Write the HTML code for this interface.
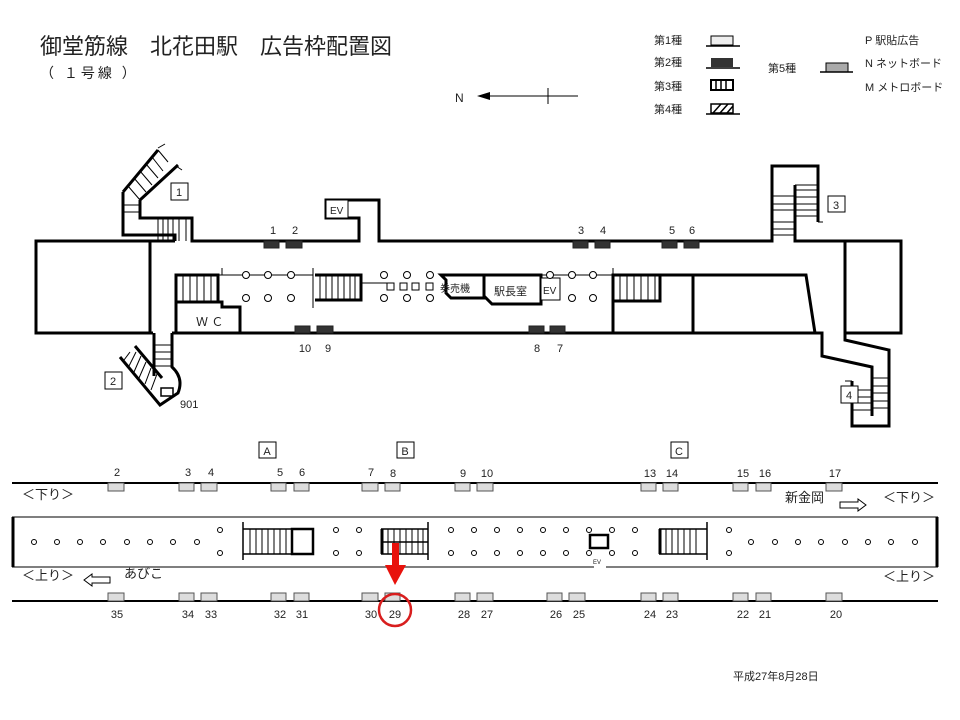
<!DOCTYPE html>
<html><head><meta charset="utf-8"><style>
body{margin:0;background:#fff;}
svg{display:block;font-family:"Liberation Sans","Noto Sans CJK JP",sans-serif;}
.w{fill:none;stroke:#000;stroke-width:3;}
.t{fill:none;stroke:#000;stroke-width:1;}
.m{fill:none;stroke:#000;stroke-width:1.5;}
.c{fill:#fff;stroke:#000;stroke-width:1;}
.d{fill:#333;stroke:#222;stroke-width:1;}
.l{fill:#ddd;stroke:#555;stroke-width:1;}
text{fill:#222;}
.n{font-size:11px;text-anchor:middle;}
</style></head><body>
<svg width="960" height="720" viewBox="0 0 960 720">
<!-- title -->
<text x="40" y="54" font-size="22">御堂筋線　北花田駅　広告枠配置図</text>
<text x="40" y="78" font-size="14" letter-spacing="3">（ １号線 ）</text>
<text x="455" y="102" font-size="12">N</text>
<line x1="485" y1="96" x2="578" y2="96" class="t"/>
<polygon points="477,96 490,92 490,100" fill="#000"/>
<line x1="548" y1="88" x2="548" y2="104" class="t"/>
<!-- legend -->
<g font-size="11">
<text x="654" y="44">第1種</text><text x="654" y="66">第2種</text><text x="654" y="90">第3種</text><text x="654" y="113">第4種</text>
<text x="768" y="72">第5種</text>
<text x="865" y="44">P  駅貼広告</text><text x="865" y="67">N  ネットボード</text><text x="865" y="91">M  メトロボード</text>
</g>
<rect x="711" y="36" width="22" height="9" fill="#eee" stroke="#000"/><line x1="706" y1="46" x2="740" y2="46" class="m"/>
<rect x="711" y="58" width="22" height="9" fill="#333"/><line x1="706" y1="68" x2="740" y2="68" class="m"/>
<rect x="711" y="80" width="22" height="10" fill="#fff" stroke="#000" stroke-width="2"/>
<path d="M716,80v10M721,80v10M726,80v10" class="m"/>
<rect x="711" y="104" width="22" height="9" fill="#fff" stroke="#000" stroke-width="1.5"/>
<path d="M713,113l8,-9M720,113l8,-9M727,113l6,-7" class="m"/><line x1="706" y1="114" x2="740" y2="114" class="m"/>
<rect x="826" y="63" width="22" height="9" fill="#aaa" stroke="#000"/><line x1="820" y1="72" x2="853" y2="72" class="m"/>

<!-- concourse walls -->
<path class="w" d="M175,241H36V333H153"/>
<path class="w" d="M150,241V333"/>
<path class="w" d="M123,192V235H175V241"/>
<path class="w" d="M123,192L158,150M140,200L178,165"/>
<path class="w" d="M140,200V218H192V241H359V218H326V200H379V241H772V166H818V222"/>
<path class="t" d="M818,222H823"/>
<path class="w" d="M795,185V241H901V333H845V340L889,350V426H852V381"/>
<path class="w" d="M845,241V333"/>
<path class="w" d="M172,333H822V356L872,367V416"/>
<path class="w" d="M326,218V218"/><rect x="326" y="200" width="22" height="18" class="c" stroke-width="2.5"/>
<text x="330" y="214" font-size="10">EV</text>
<!-- stair1 treads -->
<path class="t" d="M123,205H140M123,212H140M158,218V241M163,218V241M168,218V241M173,218V241M179,218V241M186,218V241"/>
<path class="t" d="M128,186L140,200M134,178L146,192M140,171L152,185M146,164L158,178M152,157L163,171M158,150L168,162"/>
<path class="t" d="M158,148L165,144M176,166L182,170"/>
<!-- stair2 -->
<path class="w" d="M154,333V376M172,333V367Q184,378 178,393L160,405L120,357"/>
<path class="w" d="M135,346L162,378"/>
<path class="t" d="M154,345H172M154,352H172M154,359H172M154,366H172M130,352L124,360M136,352L129,366M141,356L134,372M146,362L139,378M151,368L145,384M157,374L151,390"/>
<rect x="161" y="388" width="12" height="8" class="m"/>
<!-- stair3 treads -->
<path class="t" d="M795,185H818M795,190H818M795,197H818M795,204H818M795,210H818M795,216H818M772,196H795M772,204H795M772,210H795M772,222H795M772,229H795M772,235H795"/>
<!-- stair4 -->
<path class="w" d="M872,367V416"/>
<path class="t" d="M872,378H889M872,386H889M872,393H889M872,401H889M872,408H889M852,390H872M852,397H872M852,403H872M852,410H872M845,381H852"/>
<!-- island inner -->
<path class="w" d="M176,333V275H218V302H176M176,302H222V307H240V333"/>
<path class="t" d="M183,275V302M190,275V302M197,275V302M204,275V302M211,275V302"/>
<path class="t" d="M218,275H313M222,268V275M313,268V308"/>
<path class="w" d="M315,275H361V300H315"/>
<path class="t" d="M320,275V300M326,275V300M332,275V300M338,275V300M344,275V300M350,275V300M355,275V300M361,283H390"/>
<path class="w" d="M484,275H441L446,280V293L451,298H484Z"/>
<path class="w" d="M484,275H541V304H492L484,296Z"/>
<rect x="541" y="278" width="19" height="22" class="c" stroke-width="2.5"/>
<text x="543" y="294" font-size="10">EV</text>
<text x="440" y="292" font-size="10">券売機</text>
<text x="494" y="295" font-size="11">駅長室</text>
<path class="t" d="M541,275H613M613,268V275"/>
<path class="w" d="M613,333V275H660V301H613M613,275H806L815,333M693,275V333"/>
<path class="t" d="M620,275V301M627,275V301M634,275V301M641,275V301M648,275V301M655,275V301"/>
<g class="c">
<circle cx="246" cy="275" r="3.5"/><circle cx="268" cy="275" r="3.5"/><circle cx="291" cy="275" r="3.5"/>
<circle cx="246" cy="298" r="3.5"/><circle cx="268" cy="298" r="3.5"/><circle cx="291" cy="298" r="3.5"/>
<circle cx="384" cy="275" r="3.5"/><circle cx="407" cy="275" r="3.5"/><circle cx="430" cy="275" r="3.5"/>
<circle cx="384" cy="298" r="3.5"/><circle cx="407" cy="298" r="3.5"/><circle cx="430" cy="298" r="3.5"/>
<rect x="387" y="283" width="7" height="7"/><rect x="400" y="283" width="7" height="7"/><rect x="412" y="283" width="7" height="7"/><rect x="426" y="283" width="7" height="7"/>
<circle cx="550" cy="275" r="3.5"/><circle cx="572" cy="275" r="3.5"/><circle cx="593" cy="275" r="3.5"/>
<circle cx="572" cy="298" r="3.5"/><circle cx="593" cy="298" r="3.5"/>
</g>
<text x="196" y="326" font-size="12">Ｗ Ｃ</text>
<!-- concourse ads -->
<g class="d">
<rect x="264" y="241" width="15" height="7"/><rect x="286" y="241" width="16" height="7"/>
<rect x="573" y="241" width="15" height="7"/><rect x="595" y="241" width="15" height="7"/>
<rect x="662" y="241" width="15" height="7"/><rect x="684" y="241" width="15" height="7"/>
<rect x="295" y="326" width="15" height="7"/><rect x="317" y="326" width="16" height="7"/>
<rect x="529" y="326" width="15" height="7"/><rect x="550" y="326" width="15" height="7"/>
</g>
<g class="n" font-size="12">
<text x="273" y="234" class="n">1</text><text x="295" y="234" class="n">2</text>
<text x="581" y="234" class="n">3</text><text x="603" y="234" class="n">4</text>
<text x="672" y="234" class="n">5</text><text x="692" y="234" class="n">6</text>
<text x="305" y="352" class="n">10</text><text x="328" y="352" class="n">9</text>
<text x="537" y="352" class="n">8</text><text x="560" y="352" class="n">7</text>
</g>
<g class="c" stroke-width="1.2">
<rect x="171" y="183" width="17" height="17"/><rect x="105" y="372" width="17" height="17"/>
<rect x="828" y="196" width="17" height="16"/><rect x="841" y="386" width="17" height="17"/>
<rect x="259" y="442" width="17" height="16"/><rect x="397" y="442" width="17" height="16"/><rect x="671" y="442" width="17" height="16"/>
</g>
<g font-size="11" text-anchor="middle">
<text x="179" y="196">1</text><text x="113" y="385">2</text><text x="836" y="209">3</text><text x="849" y="399">4</text>
<text x="267" y="455">A</text><text x="405" y="455">B</text><text x="679" y="455">C</text>
</g>
<text x="180" y="408" font-size="11">901</text>

<!-- platform -->
<line x1="12" y1="483" x2="938" y2="483" stroke="#000" stroke-width="2"/>
<line x1="12" y1="601" x2="938" y2="601" stroke="#000" stroke-width="2"/>
<g class="l">
<rect x="108" y="483" width="16" height="8"/><rect x="179" y="483" width="15" height="8"/><rect x="201" y="483" width="16" height="8"/>
<rect x="271" y="483" width="15" height="8"/><rect x="294" y="483" width="15" height="8"/><rect x="362" y="483" width="16" height="8"/>
<rect x="385" y="483" width="15" height="8"/><rect x="455" y="483" width="15" height="8"/><rect x="477" y="483" width="16" height="8"/>
<rect x="641" y="483" width="15" height="8"/><rect x="663" y="483" width="15" height="8"/><rect x="733" y="483" width="15" height="8"/>
<rect x="756" y="483" width="15" height="8"/><rect x="826" y="483" width="16" height="8"/>
<rect x="108" y="593" width="16" height="8"/><rect x="179" y="593" width="15" height="8"/><rect x="201" y="593" width="16" height="8"/>
<rect x="271" y="593" width="15" height="8"/><rect x="294" y="593" width="15" height="8"/><rect x="362" y="593" width="16" height="8"/>
<rect x="385" y="593" width="15" height="8"/><rect x="455" y="593" width="15" height="8"/><rect x="477" y="593" width="16" height="8"/>
<rect x="547" y="593" width="15" height="8"/><rect x="569" y="593" width="16" height="8"/>
<rect x="641" y="593" width="15" height="8"/><rect x="663" y="593" width="15" height="8"/><rect x="733" y="593" width="15" height="8"/>
<rect x="756" y="593" width="15" height="8"/><rect x="826" y="593" width="16" height="8"/>
</g>
<g font-size="11" text-anchor="middle">
<text x="117" y="476">2</text><text x="188" y="476">3</text><text x="211" y="476">4</text><text x="280" y="476">5</text><text x="302" y="476">6</text>
<text x="371" y="476">7</text><text x="393" y="477">8</text><text x="463" y="477">9</text><text x="487" y="477">10</text>
<text x="650" y="477">13</text><text x="672" y="477">14</text><text x="743" y="477">15</text><text x="765" y="477">16</text><text x="835" y="477">17</text>
<text x="117" y="618">35</text><text x="188" y="618">34</text><text x="211" y="618">33</text><text x="280" y="618">32</text><text x="302" y="618">31</text>
<text x="371" y="618">30</text><text x="395" y="618">29</text><text x="464" y="618">28</text><text x="487" y="618">27</text>
<text x="556" y="618">26</text><text x="579" y="618">25</text><text x="650" y="618">24</text><text x="672" y="618">23</text>
<text x="743" y="618">22</text><text x="765" y="618">21</text><text x="836" y="618">20</text>
</g>
<g font-size="13">
<text x="22" y="499">＜下り＞</text><text x="22" y="580">＜上り＞</text>
<text x="124" y="578">あびこ</text><text x="785" y="502">新金岡</text>
<text x="883" y="502">＜下り＞</text><text x="883" y="581">＜上り＞</text>
</g>
<path d="M84,580L92,574V577H110V583H92V586Z" class="t"/>
<path d="M866,505L858,499V502H840V508H858V511Z" class="t"/>
<!-- island -->
<path d="M12,517H938M12,567H594M606,567H938" stroke="#555" stroke-width="1.5" fill="none"/>
<path d="M13,517V567M937,517V567" stroke="#000" stroke-width="3"/>
<text x="597" y="564" font-size="6" text-anchor="middle">EV</text>
<g class="c">
<circle cx="34" cy="542" r="2.5"/><circle cx="57" cy="542" r="2.5"/><circle cx="80" cy="542" r="2.5"/><circle cx="103" cy="542" r="2.5"/>
<circle cx="127" cy="542" r="2.5"/><circle cx="150" cy="542" r="2.5"/><circle cx="173" cy="542" r="2.5"/><circle cx="197" cy="542" r="2.5"/>
<circle cx="220" cy="530" r="2.5"/><circle cx="220" cy="553" r="2.5"/>
<circle cx="336" cy="530" r="2.5"/><circle cx="336" cy="553" r="2.5"/><circle cx="359" cy="530" r="2.5"/><circle cx="359" cy="553" r="2.5"/>
<circle cx="451" cy="530" r="2.5"/><circle cx="451" cy="553" r="2.5"/><circle cx="474" cy="530" r="2.5"/><circle cx="474" cy="553" r="2.5"/>
<circle cx="497" cy="530" r="2.5"/><circle cx="497" cy="553" r="2.5"/><circle cx="520" cy="530" r="2.5"/><circle cx="520" cy="553" r="2.5"/>
<circle cx="543" cy="530" r="2.5"/><circle cx="543" cy="553" r="2.5"/><circle cx="566" cy="530" r="2.5"/><circle cx="566" cy="553" r="2.5"/>
<circle cx="589" cy="530" r="2.5"/><circle cx="589" cy="553" r="2.5"/><circle cx="612" cy="530" r="2.5"/><circle cx="612" cy="553" r="2.5"/>
<circle cx="635" cy="530" r="2.5"/><circle cx="635" cy="553" r="2.5"/>
<circle cx="729" cy="530" r="2.5"/><circle cx="729" cy="553" r="2.5"/>
<circle cx="751" cy="542" r="2.5"/><circle cx="775" cy="542" r="2.5"/><circle cx="798" cy="542" r="2.5"/><circle cx="821" cy="542" r="2.5"/>
<circle cx="845" cy="542" r="2.5"/><circle cx="868" cy="542" r="2.5"/><circle cx="891" cy="542" r="2.5"/><circle cx="915" cy="542" r="2.5"/>
</g>
<rect x="590" y="535" width="18" height="13" fill="#fff" stroke="#000" stroke-width="2.5"/>
<!-- stair A -->
<path class="m" d="M243,522V560M243,529H313M243,554H313"/>
<rect x="292" y="529" width="21" height="25" fill="none" stroke="#000" stroke-width="2.5"/>
<path class="t" d="M250,529V554M256,529V554M262,529V554M268,529V554M274,529V554M280,529V554M286,529V554"/>
<!-- stair B -->
<path class="m" d="M428,522V560M381,529H428M381,554H428M381,542H428"/>
<path d="M382,529V554" stroke="#000" stroke-width="3"/>
<path class="t" d="M388,529V554M394,529V554M400,529V554M406,529V554M412,529V554M418,529V554M423,529V554"/>
<!-- stair C -->
<path class="m" d="M707,522V560M659,529H707M659,554H707"/>
<path d="M660,529V554" stroke="#000" stroke-width="3"/>
<path class="t" d="M666,529V554M672,529V554M678,529V554M684,529V554M690,529V554M696,529V554"/>
<!-- red marker -->
<rect x="392" y="543" width="7" height="24" fill="#e8120c"/>
<polygon points="385,565 406,565 395,585" fill="#e8120c"/>
<circle cx="395" cy="610" r="16" fill="none" stroke="#d81e1e" stroke-width="2.5"/>
<text x="733" y="680" font-size="11">平成27年8月28日</text>
</svg>
</body></html>
